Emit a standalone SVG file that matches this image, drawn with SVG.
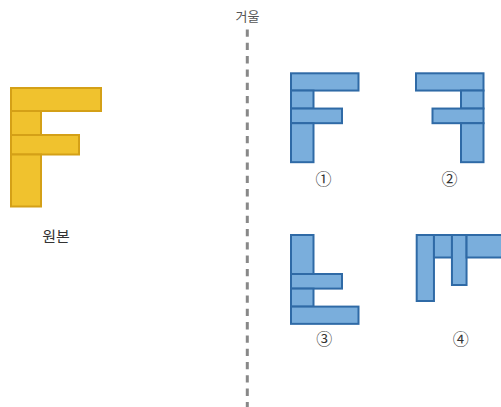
<svg xmlns="http://www.w3.org/2000/svg" width="501" height="407" viewBox="0 0 501 407">
<style>
.y{fill:#F0C22E;stroke:#D4A017;stroke-width:2}
.b{fill:#7AAEDC;stroke:#2F6AA6;stroke-width:2}
.t{font-family:"Noto Sans CJK KR","Noto Sans",sans-serif;fill:#333;text-anchor:middle}
.n{font-size:16px}
</style>
<rect width="501" height="407" fill="#fff"/>
<g id="mirror">
<line x1="247.3" y1="29.5" x2="247.3" y2="407" stroke="#888" stroke-width="3" stroke-dasharray="7.3 6"/>
<text class="t" x="247.5" y="21" font-size="13" style="fill:#555">거울</text>
</g>
<g id="original">
<rect class="y" x="11" y="88" width="90" height="23"/>
<rect class="y" x="11" y="111" width="30" height="24"/>
<rect class="y" x="11" y="135" width="68" height="19.5"/>
<rect class="y" x="11" y="154.5" width="30" height="52"/>
<text class="t" x="56" y="242" font-size="15">원본</text>
</g>
<g id="opt1">
<rect class="b" x="291" y="73.3" width="67.5" height="17.25"/>
<rect class="b" x="291" y="90.55" width="22.5" height="18"/>
<rect class="b" x="291" y="108.55" width="51" height="14.65"/>
<rect class="b" x="291" y="123.2" width="22.5" height="39"/>
<text class="t n" x="323.5" y="184.5">①</text>
</g>
<g id="opt2">
<rect class="b" x="416" y="73.3" width="67.5" height="17.25"/>
<rect class="b" x="461" y="90.55" width="22.5" height="18"/>
<rect class="b" x="432.5" y="108.55" width="51" height="14.65"/>
<rect class="b" x="461" y="123.2" width="22.5" height="39"/>
<text class="t n" x="449.5" y="184.5">②</text>
</g>
<g id="opt3">
<rect class="b" x="291" y="235" width="22.5" height="39"/>
<rect class="b" x="291" y="274" width="51" height="14.6"/>
<rect class="b" x="291" y="288.6" width="22.5" height="18"/>
<rect class="b" x="291" y="306.6" width="67.5" height="17.25"/>
<text class="t n" x="324.3" y="344.5">③</text>
</g>
<g id="opt4">
<rect class="b" x="416.7" y="235" width="17.25" height="66"/>
<rect class="b" x="433.95" y="235" width="18" height="22.5"/>
<rect class="b" x="451.95" y="235" width="14.6" height="50"/>
<rect class="b" x="466.55" y="235" width="39" height="22.5"/>
<text class="t n" x="460.7" y="344.5">④</text>
</g>
</svg>
